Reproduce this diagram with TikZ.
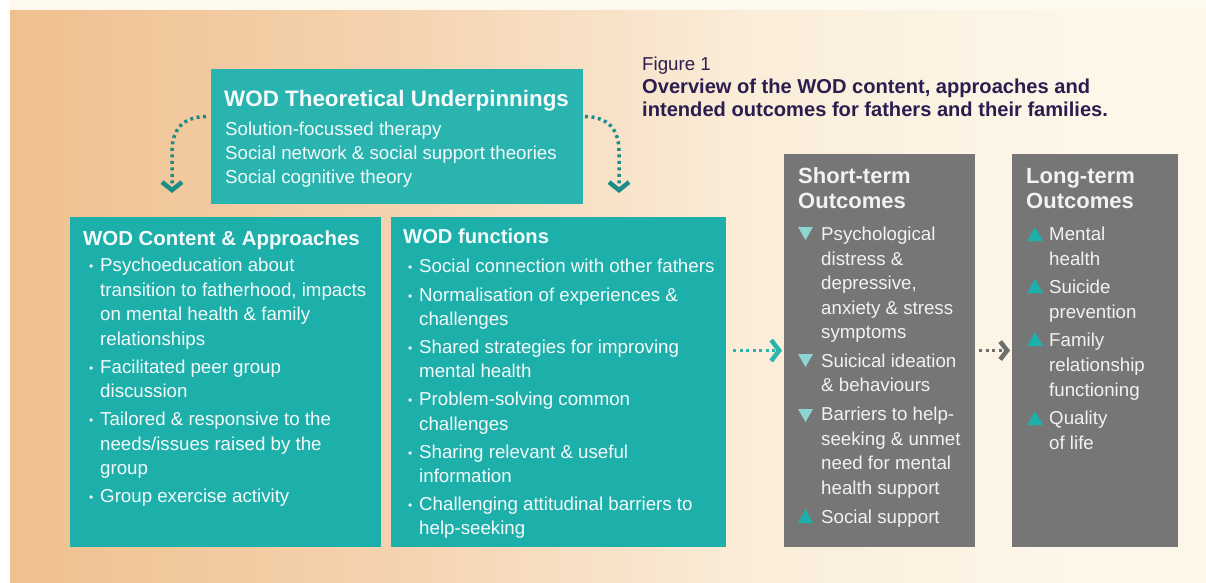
\documentclass[tikz,border=0pt]{standalone}
\usepackage{fontspec}
\setmainfont{Liberation Sans}
\usetikzlibrary{arrows.meta,calc}
\definecolor{bgA}{HTML}{EFC08F}
\definecolor{bgB}{HTML}{F5D2AF}
\definecolor{bgC}{HTML}{FAEDD9}
\definecolor{bgD}{HTML}{FDF7EA}
\definecolor{topstrip}{HTML}{FDF9EE}
\definecolor{tealA}{HTML}{29B4B0}
\definecolor{tealB}{HTML}{1DB0AB}
\definecolor{grayB}{HTML}{767677}
\definecolor{arrowDark}{HTML}{1E8D8A}
\definecolor{arrowTeal}{HTML}{2AB3AF}
\definecolor{arrowGray}{HTML}{6E6E6E}
\definecolor{triLight}{HTML}{8FD4D0}
\definecolor{figcol}{HTML}{2B1D4F}
\definecolor{txtW}{HTML}{F4FAFA}
\definecolor{txtG}{HTML}{F2F2F2}
\pgfdeclarehorizontalshading{bgshade}{100bp}{color(0bp)=(bgA); color(25bp)=(bgA); color(41bp)=(bgB); color(56bp)=(bgC); color(70bp)=(bgD); color(100bp)=(bgD)}
\newcommand\fst{\rule{0pt}{16pt}}
\newcommand\bul{\llap{\raisebox{1pt}{\fontsize{12}{12}\selectfont\textbullet}\hspace{7pt}}}
\begin{document}
\begin{tikzpicture}[x=1pt,y=-1pt,
  box/.style={anchor=north west, inner sep=0pt, outer sep=0pt, draw=none},
  topbox/.style={box, fill=tealA},
  tealbox/.style={box, fill=tealB},
  graybox/.style={box, fill=grayB},
  txt/.style={anchor=north west, inner sep=0pt, align=left, text=txtW},
  ttl/.style={anchor=base west, inner sep=0pt, text=txtW},
  bodyfont/.style={font=\fontsize{18.7}{#1}\selectfont},
  dotarrow/.style={line width=3.5pt, dash pattern=on 3pt off 3.5pt}
]
\useasboundingbox (0,0) rectangle (1206,582);
\fill[white] (0,0) rectangle (1206,582);
\fill[topstrip] (10,0) rectangle (1206,10);
\shade[shading=bgshade] (10,10) rectangle (1206,582);

% boxes
\node[topbox, minimum width=372, minimum height=135] (theory) at (211,69) {};
\node[tealbox, minimum width=311, minimum height=330] (content) at (70,217) {};
\node[tealbox, minimum width=335, minimum height=330] (functions) at (391,217) {};
\node[graybox, minimum width=191, minimum height=393] (short) at (784,154) {};
\node[graybox, minimum width=166, minimum height=393] (long) at (1012,154) {};

% figure caption
\node[anchor=base west, inner sep=0pt, text=figcol, font=\fontsize{18.7}{22}\selectfont] (figlab) at (642,70) {Figure 1};
\node[txt, text=figcol, font=\bfseries\fontsize{20.1}{23.5}\selectfont] (figcap) at (642,77) {\fst Overview of the WOD content, approaches and\\intended outcomes for fathers and their families.};

% theoretical underpinnings
\node[ttl, font=\bfseries\fontsize{22.4}{26}\selectfont] (theoryT) at (224,106) {WOD Theoretical Underpinnings};
\node[txt, bodyfont=24] (theoryB) at (225,119) {\fst Solution-focussed therapy\\Social network \& social support theories\\Social cognitive theory};

% content & approaches
\node[ttl, font=\bfseries\fontsize{20.4}{24}\selectfont] (contentT) at (83,245) {WOD Content \& Approaches};
\node[txt, bodyfont=24.5] (contentB) at (100,255.7) {\fst\bul Psychoeducation about\\transition to fatherhood, impacts\\on mental health \& family\\relationships\\[3.5pt]\bul Facilitated peer group\\discussion\\[3.5pt]\bul Tailored \& responsive to the\\needs/issues raised by the\\group\\[3.5pt]\bul Group exercise activity};

% functions
\node[ttl, font=\bfseries\fontsize{20.2}{24}\selectfont] (functionsT) at (403,243) {WOD functions};
\node[txt, bodyfont=24.3] (functionsB) at (419,256.7) {\fst\bul Social connection with other fathers\\[3.8pt]\bul Normalisation of experiences \&\\challenges\\[3.8pt]\bul Shared strategies for improving\\mental health\\[3.8pt]\bul Problem-solving common\\challenges\\[3.8pt]\bul Sharing relevant \& useful\\information\\[3.8pt]\bul Challenging attitudinal barriers to\\help-seeking};

% short-term outcomes
\node[txt, text=txtG, font=\bfseries\fontsize{22}{25}\selectfont] (shortT) at (798,166) {\rule{0pt}{17pt}Short-term\\Outcomes};
\node[txt, text=txtG, bodyfont=24.4] (shortB) at (821,224.7) {\fst Psychological\\distress \&\\depressive,\\anxiety \& stress\\symptoms\\[4.6pt]Suicical ideation\\\& behaviours\\[4.6pt]Barriers to help-\\seeking \& unmet\\need for mental\\health support\\[4.6pt]Social support};
\fill[triLight] (798,227) -- ++(15,0) -- ++(-7.5,13) -- cycle;
\fill[triLight] (798,354) -- ++(15,0) -- ++(-7.5,13) -- cycle;
\fill[triLight] (798,409) -- ++(15,0) -- ++(-7.5,13) -- cycle;
\fill[tealB] (798,523) -- ++(15,0) -- ++(-7.5,-14) -- cycle;

% long-term outcomes
\node[txt, text=txtG, font=\bfseries\fontsize{22}{25}\selectfont] (longT) at (1026,166) {\rule{0pt}{17pt}Long-term\\Outcomes};
\node[txt, text=txtG, bodyfont=25] (longB) at (1049,224.7) {\fst Mental\\health\\[3pt]Suicide\\prevention\\[3pt]Family\\relationship\\functioning\\[3pt]Quality\\of life};
\fill[tealB] (1027,241) -- ++(16,0) -- ++(-8,-14) -- cycle;
\fill[tealB] (1027,293) -- ++(16,0) -- ++(-8,-14) -- cycle;
\fill[tealB] (1027,346) -- ++(16,0) -- ++(-8,-14) -- cycle;
\fill[tealB] (1027,425) -- ++(16,0) -- ++(-8,-14) -- cycle;

% connectors
\coordinate (lend) at (172,193);
\coordinate (rend) at (619,193);
\draw[dotarrow, arrowDark, -{Straight Barb[length=8pt,width=20pt,line width=4.5pt]}] ($(theory.west)+(-5pt,20pt)$) .. controls (182,117) and (172,130) .. (172,152) -- (lend);
\draw[dotarrow, arrowDark, -{Straight Barb[length=8pt,width=20pt,line width=4.5pt]}] ($(theory.east)+(2pt,20pt)$) .. controls (609,117) and (619,130) .. (619,152) -- (rend);
\draw[dotarrow, arrowTeal, -{Straight Barb[length=8pt,width=21pt,line width=4.5pt]}] ($(functions.east |- short.west)+(7pt,0)$) -- ($(short.west)+(-2pt,0)$);
\draw[dotarrow, arrowGray, -{Straight Barb[length=7pt,width=18pt,line width=4.5pt]}] ($(short.east)+(4pt,0)$) -- ($(long.west)+(-2pt,0)$);
\end{tikzpicture}
\end{document}
